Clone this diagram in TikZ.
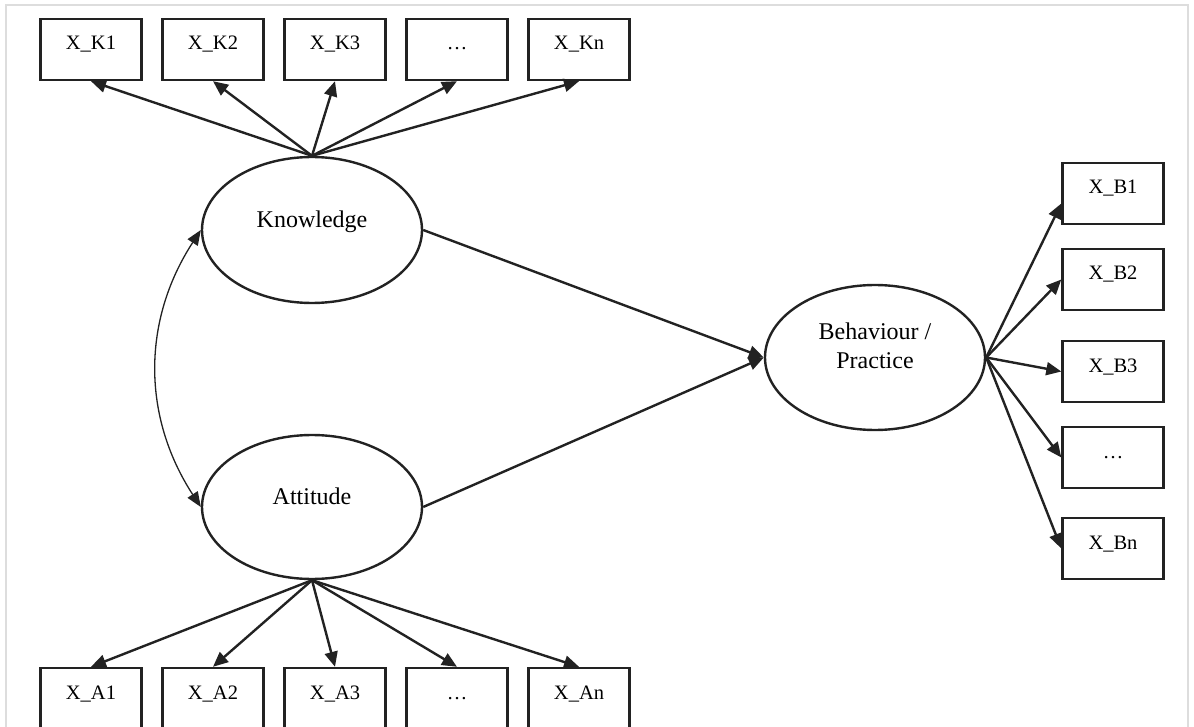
\documentclass[tikz,border=0pt]{standalone}
\usepackage{fontspec}
\setmainfont{Liberation Serif}
\usetikzlibrary{arrows.meta,shapes.geometric}
\definecolor{ink}{HTML}{222222}
\definecolor{txt}{HTML}{000000}
\definecolor{framegrey}{HTML}{DDDDDD}
\begin{document}
\begin{tikzpicture}[x=1pt,y=-1pt,
  obs/.style={draw=ink, line width=2.4pt, rectangle, inner sep=0pt,
    minimum width=101pt, minimum height=61pt, text=txt,
    font=\fontsize{20.5}{24}\selectfont, text height=10pt, text depth=9pt},
  lat/.style={draw=ink, line width=2.4pt, ellipse, inner sep=0pt,
    minimum width=220pt, minimum height=146pt, text=txt,
    font=\fontsize{24}{29}\selectfont},
  tip/.style={Triangle[length=15pt,width=13pt]},
  link/.style={draw=ink, line width=2.4pt, -{Triangle[length=15pt,width=13pt]}},
  cov/.style={draw=ink, line width=1.3pt,
    {Triangle[length=15pt,width=12pt]}-{Triangle[length=15pt,width=12pt]}}
]
\useasboundingbox (0,0) rectangle (1194,727);
\clip (0,0) rectangle (1194,727);

% outer frame
\draw[framegrey, line width=1.5pt] (6,740) -- (6,5) -- (1188,5) -- (1188,740);

% latent variables
\node[lat, text height=8pt, text depth=12pt] (K) at (312,230) {Knowledge};
\node[lat, minimum height=144pt, text height=8pt, text depth=14pt] (A) at (312,507) {Attitude};
\node[lat, minimum height=145pt, align=center, text height=21pt, text depth=0pt] (B) at (875,357.5) {Behaviour /\\Practice};

% knowledge indicators
\node[obs] (K1) at (91,49.5)  {X\_K1};
\node[obs] (K2) at (213,49.5) {X\_K2};
\node[obs] (K3) at (335,49.5) {X\_K3};
\node[obs] (K4) at (457,49.5) {…};
\node[obs] (Kn) at (579,49.5) {X\_Kn};

% attitude indicators
\node[obs] (A1) at (91,698.5)  {X\_A1};
\node[obs] (A2) at (213,698.5) {X\_A2};
\node[obs] (A3) at (335,698.5) {X\_A3};
\node[obs] (A4) at (457,698.5) {…};
\node[obs] (An) at (579,698.5) {X\_An};

% behaviour indicators
\node[obs] (B1) at (1113,193.5) {X\_B1};
\node[obs] (B2) at (1113,279.5) {X\_B2};
\node[obs] (B3) at (1113,371.5) {X\_B3};
\node[obs] (B4) at (1113,457.5) {…};
\node[obs] (Bn) at (1113,548.5) {X\_Bn};

% loadings
\foreach \i in {K1,K2,K3,K4,Kn} \draw[link] (K.north) -- (\i.south);
\foreach \i in {A1,A2,A3,A4,An} \draw[link] (A.south) -- (\i.north);
\draw[link] (B.east) -- ([yshift=-10pt]B1.west);
\foreach \i in {B2,B3,B4,Bn} \draw[link] (B.east) -- (\i.west);

% structural paths
\draw[link] (K.east) -- (B.west);
\draw[link] (A.east) -- (B.west);

% covariance
\draw[cov] (K.west) to[bend right=33] (A.west);
\end{tikzpicture}
\end{document}
